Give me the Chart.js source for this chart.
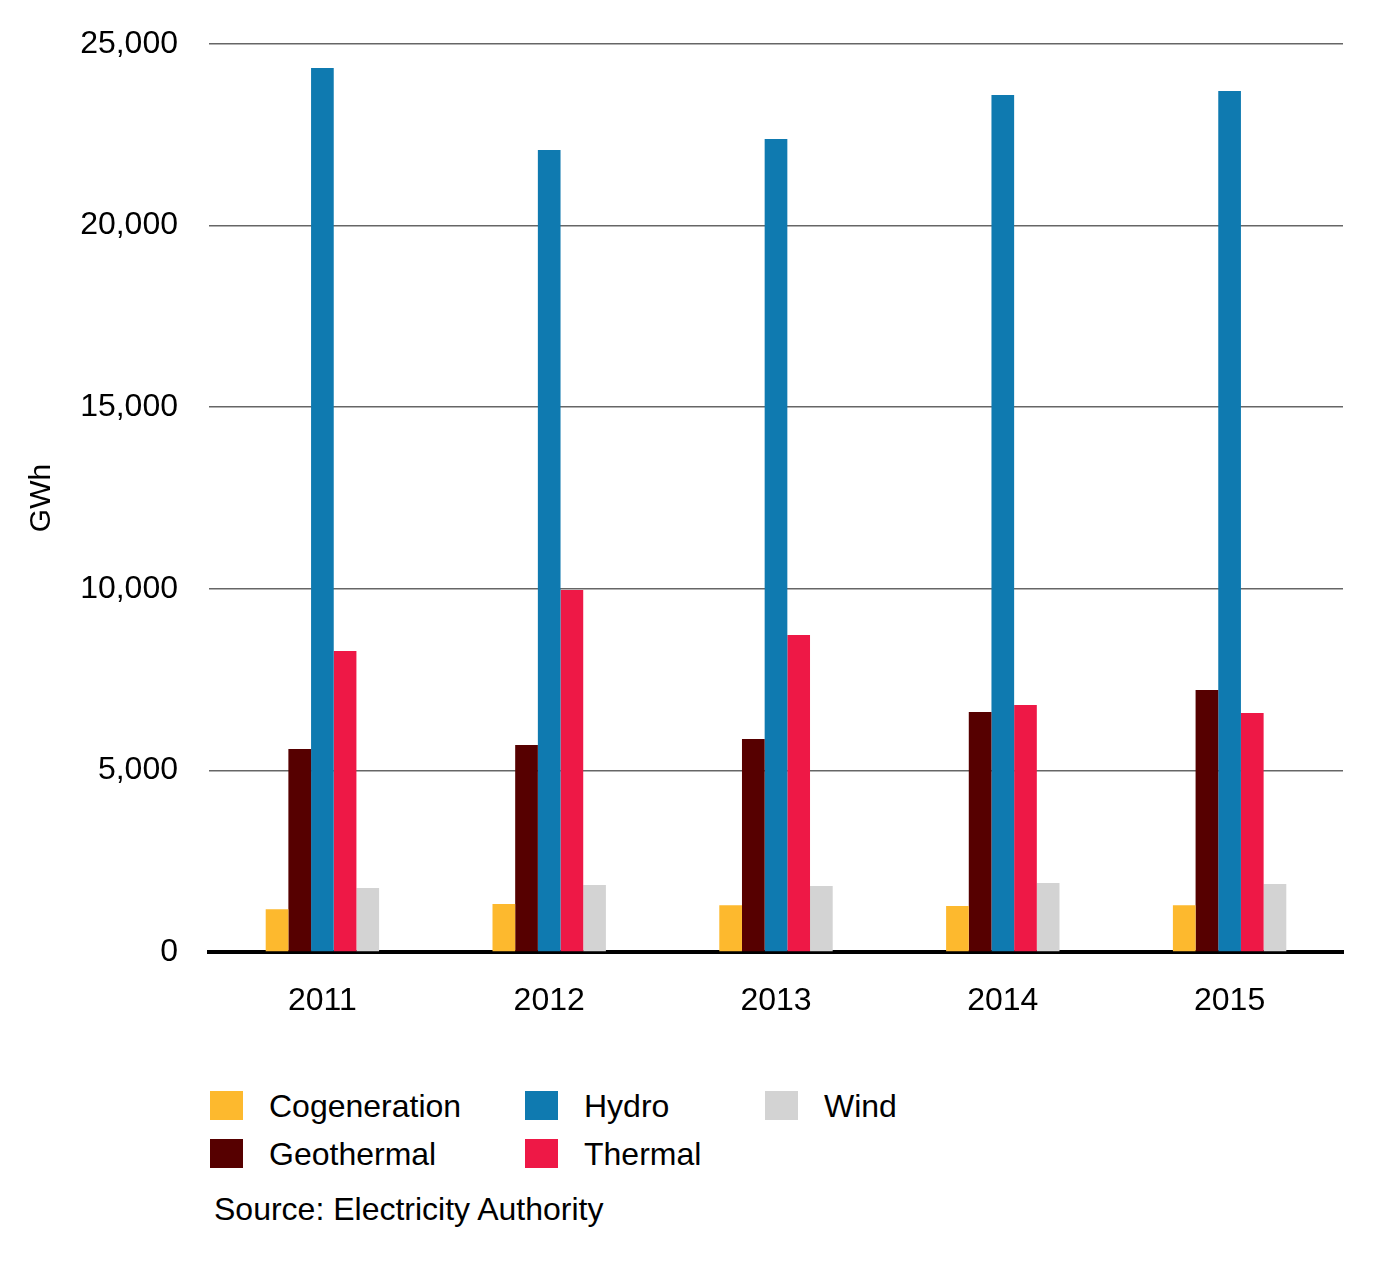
<!DOCTYPE html>
<html>
<head>
<meta charset="utf-8">
<script src="https://cdn.jsdelivr.net/npm/chart.js@4/dist/chart.umd.min.js"></script>
<style>
  html, body { margin: 0; padding: 0; background: #fff; }
  body { width: 1373px; height: 1277px; position: relative; overflow: hidden;
         font-family: "Liberation Sans", Arial, sans-serif; color: #000; }
  #wrap { position: absolute; left: 0; top: 0; width: 1373px; height: 1050px; }
  .leg { position: absolute; font-size: 32px; line-height: 32px; white-space: nowrap; }
  .sw { position: absolute; width: 33px; height: 29px; }
  #source { position: absolute; left: 214px; top: 1193px; font-size: 32px; line-height: 32px; }
</style>
</head>
<body>
<div id="wrap"><canvas id="c" width="1373" height="1050"></canvas></div>
<div id="legend"></div>
<div id="source">Source: Electricity Authority</div>
<script>
const years = ["2011", "2012", "2013", "2014", "2015"];
const cogeneration = [1180, 1320, 1290, 1265, 1290];
const geothermal   = [5590, 5700, 5865, 6610, 7215];
const hydro        = [24340, 22080, 22385, 23595, 23705];
const thermal      = [8290, 9970, 8730, 6800, 6580];
const wind         = [1760, 1845, 1815, 1900, 1870];
const seriesNames  = ["Cogeneration", "Geothermal", "Hydro", "Thermal", "Wind"];
const seriesColors = ["#FDB92E", "#560000", "#0F7AB0", "#EE1846", "#D3D3D3"];
const yTicks = [0, 5000, 10000, 15000, 20000, 25000];

const FONT = "'Liberation Sans', Arial, sans-serif";
const seriesData = [cogeneration, geothermal, hydro, thermal, wind];

new Chart(document.getElementById('c'), {
  type: 'bar',
  data: {
    labels: years,
    datasets: seriesNames.map((n, i) => ({
      label: n,
      data: seriesData[i],
      backgroundColor: seriesColors[i],
      borderWidth: 0,
      categoryPercentage: 0.5,
      barPercentage: 1.0
    }))
  },
  options: {
    responsive: false,
    animation: false,
    locale: 'en-US',
    layout: { padding: { top: 44, right: 30, left: 0, bottom: 0 } },
    plugins: { legend: { display: false }, tooltip: { enabled: false } },
    scales: {
      x: {
        z: 1,
        grid: { display: false },
        border: { display: true, color: '#000', width: 4 },
        ticks: { color: '#000', padding: 22, font: { family: FONT, size: 32 } },
        afterFit: (s) => { s.height = 1050 - 952; }
      },
      y: {
        min: 0, max: 25000,
        afterBuildTicks: (s) => { s.ticks = yTicks.map(v => ({ value: v })); },
        grid: { color: (ctx) => ctx.tick && ctx.tick.value === 0 ? 'rgba(0,0,0,0)' : '#666666',
                lineWidth: 1.5, drawTicks: false },
        border: { display: false },
        ticks: { color: '#000', padding: 31, font: { family: FONT, size: 32 },
                 callback: (v) => Number(v).toLocaleString('en-US') },
        title: { display: true, text: 'GWh', color: '#000',
                 font: { family: FONT, size: 30 }, padding: { top: 24, bottom: 0 } },
        afterFit: (s) => { s.width = 209; s.paddingTop = 0; s.paddingBottom = 0; }
      }
    }
  }
});

// HTML legend (column-major layout as in the reference)
const legendPos = [
  { sx: 210, tx: 269, y: 1091 },
  { sx: 210, tx: 269, y: 1139 },
  { sx: 525, tx: 584, y: 1091 },
  { sx: 525, tx: 584, y: 1139 },
  { sx: 765, tx: 824, y: 1091 }
];
const legend = document.getElementById('legend');
seriesNames.forEach((n, i) => {
  const p = legendPos[i];
  const sw = document.createElement('div');
  sw.className = 'sw';
  sw.style.left = p.sx + 'px'; sw.style.top = p.y + 'px';
  sw.style.background = seriesColors[i];
  legend.appendChild(sw);
  const t = document.createElement('div');
  t.className = 'leg';
  t.style.left = p.tx + 'px'; t.style.top = (p.y - 1) + 'px';
  t.textContent = n;
  legend.appendChild(t);
});
</script>
</body>
</html>
